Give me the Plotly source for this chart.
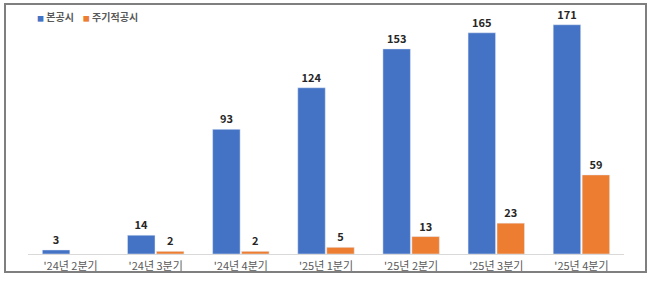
import plotly.graph_objects as go

categories = ["'24년 2분기", "'24년 3분기", "'24년 4분기", "'25년 1분기", "'25년 2분기", "'25년 3분기", "'25년 4분기"]
main_disclosure = [3, 14, 93, 124, 153, 165, 171]
periodic_disclosure = [None, 2, 2, 5, 13, 23, 59]
series_names = ["본공시", "주기적공시"]
series_colors = ["#4472C4", "#ED7D31"]

font_family = "Noto Sans CJK KR, Noto Sans, sans-serif"

def labels(vals):
    return ["" if v is None else str(v) for v in vals]

fig = go.Figure()
for name, vals, color in zip(series_names, [main_disclosure, periodic_disclosure], series_colors):
    fig.add_trace(go.Bar(
        name=name, x=categories, y=vals,
        marker_color=color,
        text=labels(vals), textposition="outside",
        textfont=dict(size=11, color="#262626", family=font_family, weight="bold"),
        cliponaxis=False,
    ))

L, R, T, B = 28, 26, 10, 27
W, H = 650, 281
pw, ph = W - L - R, H - T - B

def px_x(p):
    return (p - L) / pw

def px_y(p):
    return (H - B - p) / ph

legend_text = "    ".join(
    f"<span style='color:{c};font-size:7px'>■</span> <b>{n}</b>" for n, c in zip(series_names, series_colors)
)

fig.update_layout(
    width=W, height=H,
    margin=dict(l=L, r=R, t=T, b=B),
    paper_bgcolor="white", plot_bgcolor="white",
    barmode="group", bargap=0.32, bargroupgap=0.05,
    font=dict(family=font_family, size=11, color="#595959"),
    showlegend=False,
    xaxis=dict(showline=True, linecolor="#D9D9D9", linewidth=1, ticks="",
               ticklabelstandoff=2, automargin=False,
               tickfont=dict(size=11, color="#595959"), showgrid=False),
    yaxis=dict(range=[0, 182], visible=False, showgrid=False, zeroline=False,
               automargin=False),
    shapes=[dict(type="rect", xref="paper", yref="paper",
                 x0=px_x(5), x1=px_x(646), y0=px_y(272), y1=px_y(4),
                 line=dict(color="#7F7F7F", width=2), fillcolor="rgba(0,0,0,0)")],
    annotations=[dict(xref="paper", yref="paper", x=px_x(35), y=px_y(16),
                      xanchor="left", yanchor="middle", showarrow=False,
                      text=legend_text, font=dict(size=10, color="#595959", family=font_family))],
)

fig.write_html("out.html")
